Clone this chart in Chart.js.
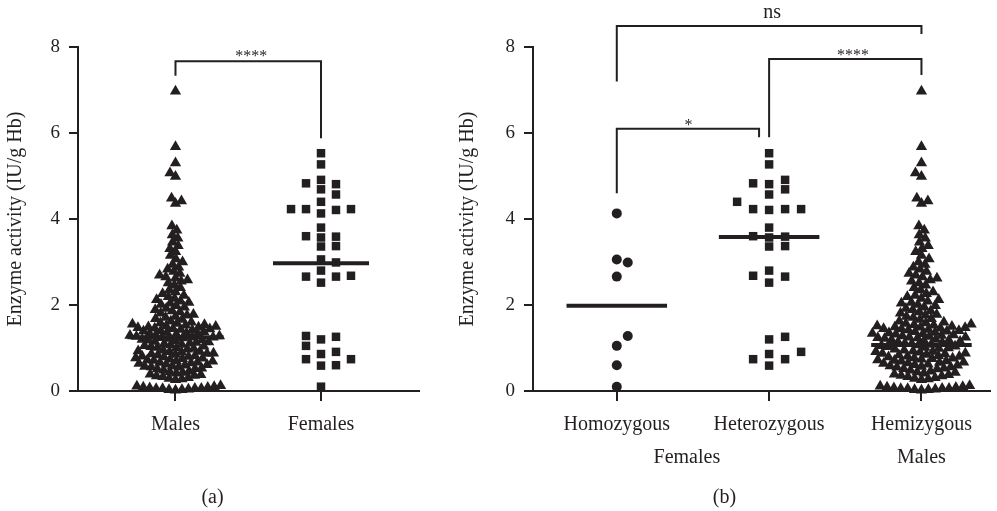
<!DOCTYPE html>
<html>
<head>
<meta charset="utf-8">
<script src="https://cdn.jsdelivr.net/npm/chart.js@4.4.1/dist/chart.umd.min.js"></script>
<style>
  html, body { margin: 0; padding: 0; background: #fff; }
  #wrap { position: relative; width: 997px; height: 511px; overflow: hidden; }
  canvas { position: absolute; top: 0; }
  #chartA { left: 0; }
  #chartB { left: 452px; }
</style>
</head>
<body>
<div id="wrap">
  <canvas id="chartA" width="425" height="511"></canvas>
  <canvas id="chartB" width="545" height="511"></canvas>
</div>
<script>
// ===== Data =====
const catsA = ["Males", "Females"];
const catsB = ["Homozygous", "Heterozygous", "Hemizygous"];
const groupsB = [{ text: "Females", at: 0.46 }, { text: "Males", at: 2 }];

// enzyme activity, IU/g Hb
const homozygous = [4.13, 3.06, 2.99, 2.66, 1.28, 1.05, 0.6, 0.1];
const heterozygous = [
  5.53, 5.27, 4.91, 4.83, 4.81, 4.69, 4.57, 4.4, 4.23, 4.23, 4.21, 4.23,
  3.8, 3.57, 3.59, 3.6, 3.37, 3.36, 2.8, 2.68, 2.66, 2.52, 1.26, 1.2,
  0.91, 0.86, 0.74, 0.74, 0.59,
];
const males = [
  // near zero
  0.02, 0.03, 0.04, 0.05, 0.05, 0.06, 0.07, 0.08, 0.09, 0.1, 0.11, 0.03,
  0.06, 0.12,
  // 0.25 - 0.5
  0.26, 0.28, 0.29, 0.31, 0.33, 0.35, 0.36, 0.38, 0.39, 0.41, 0.43, 0.44,
  0.46, 0.48,
  // 0.5 - 1.0
  0.51, 0.52, 0.53, 0.55, 0.56, 0.57, 0.58, 0.6, 0.61, 0.62, 0.64, 0.65,
  0.66, 0.67, 0.69, 0.7, 0.71, 0.72, 0.74, 0.75, 0.76, 0.77, 0.79, 0.8,
  0.81, 0.82, 0.84, 0.85, 0.86, 0.87, 0.88, 0.9, 0.91, 0.92, 0.93, 0.95,
  0.97, 0.99,
  // 1.0 - 1.5
  1.0, 1.01, 1.03, 1.04, 1.05, 1.07, 1.08, 1.1, 1.11, 1.13, 1.14, 1.15,
  1.17, 1.18, 1.19, 1.2, 1.22, 1.23, 1.24, 1.25, 1.25, 1.27, 1.28, 1.29,
  1.3, 1.32, 1.33, 1.34, 1.35, 1.36, 1.38, 1.39, 1.4, 1.42, 1.43, 1.44,
  1.45, 1.46, 1.47, 1.48, 1.49,
  // 1.5 - 1.65
  1.5, 1.51, 1.53, 1.54, 1.55, 1.57, 1.58, 1.6, 1.62,
  // 1.65 - 2.5
  1.66, 1.68, 1.71, 1.73, 1.76, 1.78, 1.81, 1.84, 1.86, 1.89, 1.92, 1.95,
  1.98, 2.01, 2.04, 2.06, 2.09, 2.12, 2.15, 2.19, 2.22, 2.26, 2.3, 2.35,
  2.4, 2.46,
  // 2.5 - 3.2
  2.51, 2.55, 2.58, 2.62, 2.65, 2.69, 2.73, 2.78, 2.83, 2.88, 2.94, 3.0,
  3.07, 3.15,
  // 3.2 - 3.9
  3.24, 3.31, 3.38, 3.46, 3.55, 3.63, 3.74, 3.84,
  // outliers
  4.36, 4.42, 4.48, 4.99, 5.07, 5.3, 5.68, 6.97,
];
const females = heterozygous.concat(homozygous);

const mediansA = [1.25, 2.97];
const mediansB = [1.98, 3.58, 1.07];

const yTicks = [0, 2, 4, 6, 8];
const yTitle = "Enzyme activity (IU/g Hb)";

// significance brackets: x in category units, y in IU/g Hb
const bracketsA = [
  { from: 0, to: 1, top: 7.67, left: 7.33, right: 5.88, label: "****", lx: 0.52, ly: 7.9 },
];
const bracketsB = [
  { from: 0, to: 2, top: 8.49, left: 7.2, right: 8.3, label: "ns", lx: 1.02, ly: 8.8 },
  { from: 1, to: 2, top: 7.72, left: 5.9, right: 7.35, label: "****", lx: 1.55, ly: 7.92 },
  { from: 0, to: 0.934, top: 6.1, left: 4.6, right: 5.9, label: "*", lx: 0.47, ly: 6.3 },
];

// ===== Styling =====
const INK = "#231f20";
const FONT = "'Liberation Serif', 'Times New Roman', serif";
const PX_PER_UNIT_Y = 43;

// ===== Point layouts =====
// column layout (GraphPad-like) for the small groups
function columns(values, center, step, maxCols, minDy) {
  const order = values.map((v, i) => i).sort((a, b) => values[a] - values[b]);
  const cols = [0];
  for (let k = 1; k <= maxCols; k++) cols.push(k, -k);
  const placed = [];
  const out = new Array(values.length);
  order.forEach((i) => {
    const v = values[i];
    let best = 0,
      bestGap = -1;
    for (const c of cols) {
      const gap = placed
        .filter((p) => p.c === c)
        .reduce((m, p) => Math.min(m, Math.abs(p.v - v)), Infinity);
      if (gap >= minDy) {
        best = c;
        break;
      }
      if (gap > bestGap) {
        bestGap = gap;
        best = c;
      }
    }
    placed.push({ c: best, v });
    out[i] = { x: center + best * step, y: v };
  });
  return out;
}

// packed beeswarm (pixel distances) for the big male group
function beeswarm(values, center, pxPerCat, d) {
  const order = values.map((v, i) => i).sort((a, b) => values[a] - values[b]);
  const placed = [];
  const out = new Array(values.length);
  order.forEach((i, n) => {
    const y = values[i] * PX_PER_UNIT_Y;
    const near = placed.filter((p) => Math.abs(p.y - y) < d);
    const cands = [0];
    near.forEach((p) => {
      const off = Math.sqrt(d * d - (p.y - y) ** 2);
      cands.push(p.x + off, p.x - off);
    });
    const side = n % 2 ? 1 : -1;
    cands.sort((a, b) => Math.abs(a) - Math.abs(b) || side * (b - a));
    let x = cands[cands.length - 1];
    for (const c of cands) {
      const ok = near.every(
        (p) => Math.abs(p.x - c) >= Math.sqrt(d * d - (p.y - y) ** 2) - 1e-6
      );
      if (ok) {
        x = c;
        break;
      }
    }
    placed.push({ x, y });
    out[i] = { x: center + x / pxPerCat, y: values[i] };
  });
  return out;
}

function medianLine(center, value) {
  return {
    type: "scatter",
    data: [
      { x: center - 0.33, y: value },
      { x: center + 0.33, y: value },
    ],
    showLine: true,
    borderColor: INK,
    borderWidth: 4,
    pointRadius: 0,
    clip: false,
  };
}

function points(data, style, radius) {
  return {
    data,
    pointStyle: style,
    pointRadius: radius,
    pointHoverRadius: radius,
    backgroundColor: INK,
    borderColor: INK,
    borderWidth: 0,
    clip: false,
  };
}

// ===== Annotation plugin (brackets, extra labels) =====
const annotations = {
  id: "annotations",
  afterDraw(chart, args, opts) {
    const { ctx, scales } = chart;
    const x = scales.x,
      y = scales.y;
    ctx.save();
    ctx.strokeStyle = INK;
    ctx.fillStyle = INK;
    ctx.lineWidth = 2;
    (opts.brackets || []).forEach((b) => {
      const x1 = x.getPixelForValue(b.from),
        x2 = x.getPixelForValue(b.to);
      const yt = y.getPixelForValue(b.top);
      ctx.beginPath();
      ctx.moveTo(x1, y.getPixelForValue(b.left));
      ctx.lineTo(x1, yt);
      ctx.lineTo(x2, yt);
      ctx.lineTo(x2, y.getPixelForValue(b.right));
      ctx.stroke();
      ctx.textAlign = "center";
      if (b.label === "ns") {
        ctx.font = "20px " + FONT;
        ctx.textBaseline = "middle";
        ctx.fillText(b.label, x.getPixelForValue(b.lx), y.getPixelForValue(b.ly));
      } else {
        ctx.font = "16px " + FONT;
        ctx.textBaseline = "alphabetic";
        ctx.fillText(b.label, x.getPixelForValue(b.lx), y.getPixelForValue(b.ly) + 10);
      }
    });
    ctx.font = "20px " + FONT;
    ctx.textAlign = "center";
    ctx.textBaseline = "middle";
    (opts.groups || []).forEach((g) => {
      ctx.fillText(g.text, x.getPixelForValue(g.at), 458);
    });
    if (opts.panel) ctx.fillText(opts.panel, chart.width / 2, 498);
    ctx.restore();
  },
};

function makeOptions(cats, minX, maxX, yWidth, padRight, annot) {
  return {
    responsive: false,
    animation: false,
    events: [],
    layout: { padding: { top: 47, right: padRight, left: 0, bottom: 0 } },
    plugins: {
      legend: { display: false },
      tooltip: { enabled: false },
      annotations: annot,
    },
    scales: {
      x: {
        type: "linear",
        min: minX,
        max: maxX,
        afterBuildTicks: (s) => {
          s.ticks = cats.map((c, i) => ({ value: i }));
        },
        afterFit: (s) => {
          s.height = 120;
        },
        ticks: {
          callback: (v, i) => cats[i],
          color: INK,
          font: { family: FONT, size: 20 },
          padding: 12,
          maxRotation: 0,
          autoSkip: false,
        },
        grid: { drawOnChartArea: false, color: INK, lineWidth: 2, tickLength: 10 },
        border: { color: INK, width: 2 },
      },
      y: {
        min: 0,
        max: 8,
        afterBuildTicks: (s) => {
          s.ticks = yTicks.map((v) => ({ value: v }));
        },
        afterFit: (s) => {
          s.width = yWidth;
        },
        ticks: { color: INK, font: { family: FONT, size: 19 }, padding: 9 },
        grid: { drawOnChartArea: false, color: INK, lineWidth: 2, tickLength: 9 },
        border: { color: INK, width: 2 },
        title: {
          display: true,
          text: yTitle,
          color: INK,
          font: { family: FONT, size: 20 },
          padding: { top: 4, bottom: 0 },
        },
      },
    },
  };
}

// ===== Panel (a) =====
new Chart(document.getElementById("chartA"), {
  type: "scatter",
  data: {
    datasets: [
      points(beeswarm(males, 0, 146, 6.5), "triangle", 6.5),
      points(columns(females, 1, 0.103, 2, 0.2), "rect", 6),
      medianLine(0, mediansA[0]),
      medianLine(1, mediansA[1]),
    ],
  },
  options: makeOptions(catsA, -0.67, 1.67, 78, 5, { brackets: bracketsA, panel: "(a)" }),
  plugins: [annotations],
});

// ===== Panel (b) =====
new Chart(document.getElementById("chartB"), {
  type: "scatter",
  data: {
    datasets: [
      points(columns(homozygous, 0, 0.072, 2, 0.35), "circle", 5),
      points(columns(heterozygous, 1, 0.105, 2, 0.2), "rect", 6),
      points(beeswarm(males, 2, 152, 6.9), "triangle", 6.5),
      medianLine(0, mediansB[0]),
      medianLine(1, mediansB[1]),
      medianLine(2, mediansB[2]),
    ],
  },
  options: makeOptions(catsB, -0.55, 2.45, 81, 7, {
    brackets: bracketsB,
    groups: groupsB,
    panel: "(b)",
  }),
  plugins: [annotations],
});
</script>
</body>
</html>
